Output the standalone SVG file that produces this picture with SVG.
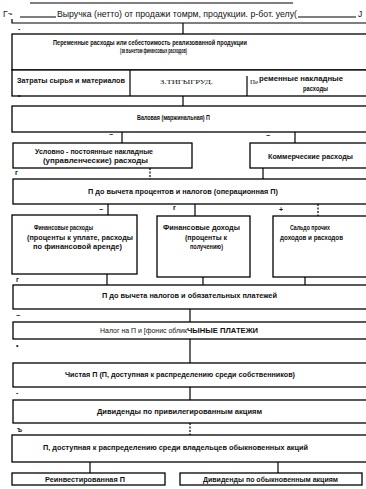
<svg xmlns="http://www.w3.org/2000/svg" width="366" height="489" viewBox="0 0 366 489">
<style>
.bx{fill:#fff;stroke:#000;stroke-width:1.3}
.t{font-family:"Liberation Sans",Arial,sans-serif;font-size:6.6px;font-weight:bold;fill:#111}
.r{font-family:"Liberation Sans",Arial,sans-serif;font-size:8.5px;fill:#111}
.rn{font-family:"Liberation Sans",Arial,sans-serif;font-size:7px;fill:#111}
.s{font-family:"Liberation Serif","Times New Roman",serif;font-size:7px;fill:#111}
.mk{font-family:"Liberation Sans",Arial,sans-serif;font-size:7px;font-weight:bold;fill:#111}
.c{stroke:#000;stroke-width:1.2;fill:none}
.d{stroke:#000;stroke-width:1.2;fill:none;stroke-dasharray:2 1.5}
</style>
<rect width="366" height="489" fill="#fff"/>

<g id="revenue">
<line class="c" x1="30" y1="3" x2="293" y2="3"/>
<text class="r" x="3" y="17">Г~</text>
<line class="c" x1="20" y1="17" x2="56" y2="17"/>
<text class="r" x="57" y="17" textLength="240" lengthAdjust="spacingAndGlyphs">Выручка (нетто) от продажи томрм, продукции. р-бот. уелу(</text>
<line class="c" x1="298" y1="17" x2="356" y2="17"/>
<text class="r" x="358" y="17">J</text>
<polyline class="c" points="12,19 12,23 366,23"/>
</g>

<g id="variable-costs">
<rect class="bx" x="12" y="34" width="356" height="36"/>
<text class="t" x="53" y="44.5" textLength="194" lengthAdjust="spacingAndGlyphs">Переменные расходы или себестоимость реализованной продукции</text>
<text class="t" x="120" y="53" textLength="67" lengthAdjust="spacingAndGlyphs">(за вычетом финансовых расходов)</text>
</g>

<g id="cost-items">
<rect class="bx" x="12" y="70" width="356" height="26"/>
<line class="c" x1="130" y1="70" x2="130" y2="96"/>
<line class="c" x1="247" y1="76" x2="247" y2="96"/>
<text class="t" x="17" y="83" textLength="108" lengthAdjust="spacingAndGlyphs">Затраты сырья и материалов</text>
<text class="s" x="160" y="84" textLength="53" lengthAdjust="spacingAndGlyphs">З.ТИГЫГРУД.</text>
<text class="s" x="250" y="84">Пе</text>
<text class="t" x="259" y="81" textLength="84" lengthAdjust="spacingAndGlyphs">ременные накладные</text>
<text class="t" x="303" y="90.5" textLength="25" lengthAdjust="spacingAndGlyphs">расходы</text>
</g>

<g id="gross-profit">
<rect class="bx" x="12" y="106" width="356" height="26"/>
<text class="t" x="137" y="120" textLength="73" lengthAdjust="spacingAndGlyphs">Валовая (маржинальная) П</text>
</g>

<g id="overheads">
<rect class="bx" x="13" y="143" width="179" height="25"/>
<text class="t" x="35" y="153.5" textLength="118" lengthAdjust="spacingAndGlyphs">Условно - постоянные накладные</text>
<text class="t" x="43" y="162.5" textLength="105" lengthAdjust="spacingAndGlyphs">(управленческие) расходы</text>
</g>

<g id="selling-costs">
<rect class="bx" x="250" y="143" width="118" height="25"/>
<text class="t" x="268" y="159" textLength="85" lengthAdjust="spacingAndGlyphs">Коммерческие расходы</text>
</g>

<g id="ebit">
<rect class="bx" x="13" y="179" width="355" height="25"/>
<text class="t" x="88" y="194" textLength="190" lengthAdjust="spacingAndGlyphs">П до вычета процентов и налогов (операционная П)</text>
</g>

<g id="fin-expenses">
<rect class="bx" x="12" y="215" width="125" height="59"/>
<text class="t" x="34" y="230" textLength="59" lengthAdjust="spacingAndGlyphs">Финансовые расходы</text>
<text class="t" x="27" y="239.5" textLength="106" lengthAdjust="spacingAndGlyphs">(проценты к уплате, расходы</text>
<text class="t" x="33" y="248.5" textLength="89" lengthAdjust="spacingAndGlyphs">по финансовой аренде)</text>
</g>

<g id="fin-income">
<rect class="bx" x="157" y="216" width="93" height="61"/>
<text class="t" x="163" y="230" textLength="77" lengthAdjust="spacingAndGlyphs">Финансовые доходы</text>
<text class="t" x="185" y="239.5" textLength="42" lengthAdjust="spacingAndGlyphs">(проценты к</text>
<text class="t" x="190" y="248.5" textLength="33" lengthAdjust="spacingAndGlyphs">получению)</text>
</g>

<g id="other-balance">
<rect class="bx" x="273" y="216" width="95" height="61"/>
<text class="t" x="290" y="230" textLength="40" lengthAdjust="spacingAndGlyphs">Сальдо прочих</text>
<text class="t" x="280" y="240" textLength="63" lengthAdjust="spacingAndGlyphs">доходов и расходов</text>
</g>

<g id="ebt">
<rect class="bx" x="13" y="285" width="355" height="24"/>
<text class="t" x="102" y="297.5" textLength="175" lengthAdjust="spacingAndGlyphs">П до вычета налогов и обязательных платежей</text>
</g>

<g id="tax">
<rect class="bx" x="13" y="322" width="355" height="17"/>
<text class="rn" x="100" y="333" textLength="87" lengthAdjust="spacingAndGlyphs">Налог на П и [фонис облик</text>
<text class="t" x="187" y="333" textLength="71" lengthAdjust="spacingAndGlyphs">ЧЫНЫЕ ПЛАТЕЖИ</text>
</g>

<g id="net-profit">
<rect class="bx" x="13" y="363" width="355" height="24"/>
<text class="t" x="65" y="376.5" textLength="230" lengthAdjust="spacingAndGlyphs">Чистая П (П, доступная к распределению среди собственников)</text>
</g>

<g id="pref-dividends">
<rect class="bx" x="13" y="400" width="355" height="23"/>
<text class="t" x="97" y="414" textLength="165" lengthAdjust="spacingAndGlyphs">Дивиденды по привилегированным акциям</text>
</g>

<g id="common-profit">
<rect class="bx" x="12" y="435" width="356" height="27"/>
<text class="t" x="43" y="449.5" textLength="265" lengthAdjust="spacingAndGlyphs">П, доступная к распределению среди владельцев обыкновенных акций</text>
</g>

<g id="retained">
<rect class="bx" x="12" y="473" width="153" height="12"/>
<text class="t" x="45" y="481.5" textLength="80" lengthAdjust="spacingAndGlyphs">Реинвестированная П</text>
</g>

<g id="common-dividends">
<rect class="bx" x="180" y="473" width="182" height="12"/>
<text class="t" x="203" y="481.5" textLength="135" lengthAdjust="spacingAndGlyphs">Дивиденды по обыкновенным акциям</text>
</g>

<g id="connectors">
<line class="c" x1="183" y1="23" x2="183" y2="34"/>
<line class="c" x1="183" y1="96" x2="183" y2="106"/>
<line class="c" x1="122" y1="132" x2="122" y2="143"/>
<line class="c" x1="295" y1="132" x2="295" y2="143"/>
<line class="d" x1="150" y1="168" x2="150" y2="179"/>
<line class="c" x1="263" y1="168" x2="263" y2="179"/>
<line class="c" x1="108" y1="204" x2="108" y2="215"/>
<line class="c" x1="195" y1="204" x2="195" y2="216"/>
<line class="d" x1="318" y1="204" x2="318" y2="216"/>
<line class="c" x1="107" y1="274" x2="107" y2="285"/>
<line class="c" x1="203" y1="277" x2="203" y2="285"/>
<line class="c" x1="305" y1="277" x2="305" y2="285"/>
<line class="c" x1="190" y1="309" x2="190" y2="322"/>
<line class="c" x1="190" y1="339" x2="190" y2="363"/>
<line class="c" x1="190" y1="387" x2="190" y2="400"/>
<line class="d" x1="190" y1="423" x2="190" y2="435"/>
<line class="c" x1="90" y1="462" x2="90" y2="473"/>
<line class="c" x1="278" y1="462" x2="278" y2="473"/>
</g>

<g id="marks">
<text class="mk" x="18" y="31">-</text>
<text class="mk" x="18" y="98">•</text>
<text class="mk" x="109" y="137">−</text>
<text class="mk" x="266" y="138">−</text>
<text class="mk" x="15" y="175">г</text>
<text class="mk" x="99" y="212">−</text>
<text class="mk" x="173" y="210">r</text>
<text class="mk" x="279" y="212">+</text>
<text class="mk" x="16" y="282">г</text>
<text class="mk" x="16" y="318">−</text>
<text class="mk" x="16" y="348">•</text>
<text class="mk" x="16" y="395">-</text>
<text class="mk" x="17" y="432">ъ</text>
</g>
</svg>
